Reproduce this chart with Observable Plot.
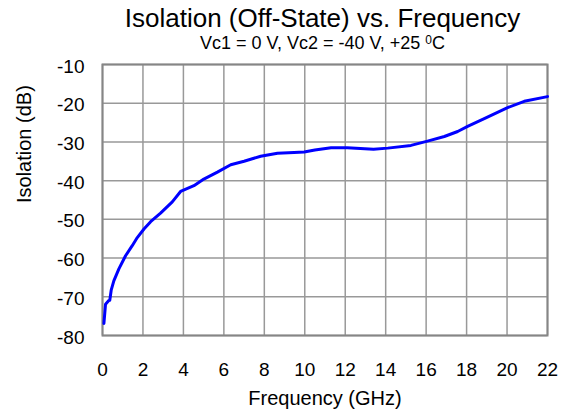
<!DOCTYPE html>
<html>
<head>
<meta charset="utf-8">
<script src="https://cdn.jsdelivr.net/npm/d3@7"></script>
<script src="https://cdn.jsdelivr.net/npm/@observablehq/plot@0.6"></script>
<style>
  html, body { margin: 0; padding: 0; background: #fff; }
  #wrap { position: relative; width: 570px; height: 418px; font-family: "Liberation Sans", Arial, sans-serif; color: #000; }
  #title { position: absolute; left: 100px; width: 445px; top: 2.5px; text-align: center; font-size: 26px; line-height: 30px; white-space: nowrap; }
  #subtitle { position: absolute; left: 100px; width: 445px; top: 33px; text-align: center; font-size: 18px; line-height: 20px; white-space: nowrap; }
  #subtitle sup { font-size: 12px; vertical-align: 5px; line-height: 0; }
  #chart { position: absolute; left: 0; top: 0; }
</style>
</head>
<body>
<div id="wrap">
  <div id="chart"></div>
  <div id="title">Isolation (Off-State) vs. Frequency</div>
  <div id="subtitle">Vc1 = 0 V, Vc2 = -40 V, +25 <sup>0</sup>C</div>
</div>
<script>
const frequencyGHz = [0.07, 0.15, 0.3, 0.36, 0.43, 0.56, 0.81, 1.14, 1.47, 1.72, 2.05, 2.38, 2.87, 3.45, 3.86, 4.52, 5.01, 5.68, 6.34, 7.0, 7.82, 8.65, 9.47, 9.97, 10.5, 11.3, 12.1, 13.4, 14.1, 15.25, 16.07, 16.9, 17.56, 18.05, 18.9, 20.0, 20.85, 22.0];
const isolationDB = [-76.9, -71.9, -71.0, -70.9, -68.3, -65.9, -62.8, -59.4, -56.8, -54.7, -52.5, -50.6, -48.4, -45.5, -42.8, -41.3, -39.6, -37.8, -35.9, -35.0, -33.7, -32.9, -32.7, -32.6, -32.1, -31.5, -31.5, -31.9, -31.6, -30.9, -29.8, -28.6, -27.3, -26.0, -23.9, -21.2, -19.5, -18.3];
const xTicks = [0, 2, 4, 6, 8, 10, 12, 14, 16, 18, 20, 22];
const yTicks = [-10, -20, -30, -40, -50, -60, -70, -80];
const xLabel = "Frequency (GHz)";
const yLabel = "Isolation (dB)";

const data = frequencyGHz.map((f, i) => ({f, v: isolationDB[i]}));

const chart = Plot.plot({
  width: 570,
  height: 418,
  marginLeft: 102,
  marginRight: 23,
  marginTop: 64,
  marginBottom: 83,
  style: {fontFamily: "'Liberation Sans', Arial, sans-serif", fontSize: "19px", color: "#000", background: "#fff"},
  x: {domain: [0, 22], label: null},
  y: {domain: [-80, -10], label: null},
  marks: [
    Plot.ruleX(xTicks, {x: d => d, y1: -80, y2: -10, stroke: "#999999", strokeWidth: 1.5}),
    Plot.ruleY(yTicks, {y: d => d, x1: 0, x2: 22, stroke: "#999999", strokeWidth: 1.5}),
    Plot.frame({stroke: "#868686", strokeWidth: 2}),
    Plot.axisX(xTicks, {tickSize: 0, tickPadding: 27, fontSize: 19, label: null, tickFormat: d => String(d)}),
    Plot.axisY(yTicks, {tickSize: 0, tickPadding: 18, dy: 2, fontSize: 19, label: null, tickFormat: d => String(d)}),
    Plot.text([xLabel], {frameAnchor: "bottom", dy: 69, fontSize: 20, text: d => d}),
    Plot.text([yLabel], {frameAnchor: "left", dx: -78, dy: 3, rotate: -90, fontSize: 20, text: d => d}),
    Plot.line(data, {x: "f", y: "v", stroke: "#0000ff", strokeWidth: 3, curve: "linear"})
  ]
});
document.getElementById("chart").appendChild(chart);
</script>
</body>
</html>
